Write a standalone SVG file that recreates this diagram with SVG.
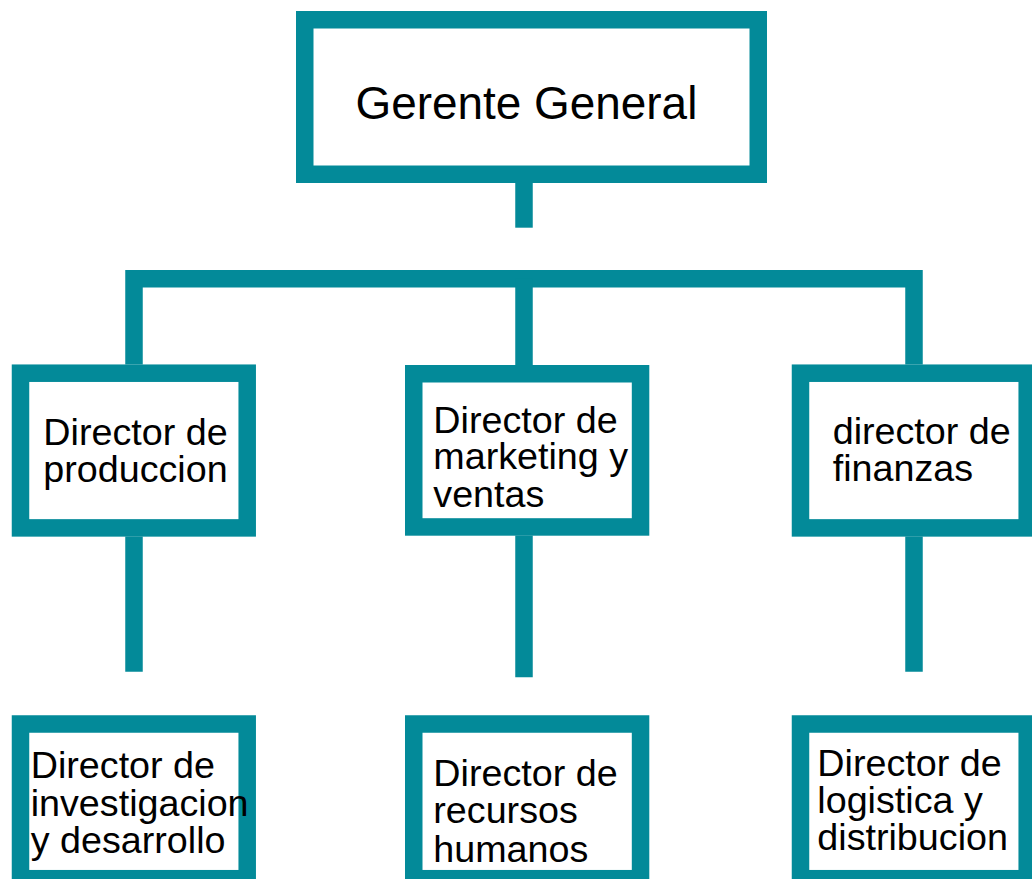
<svg xmlns="http://www.w3.org/2000/svg" width="1032" height="879" viewBox="0 0 1032 879">
<style>
.box{fill:#ffffff;stroke:#038A99;stroke-width:17.5}
.con{fill:none;stroke:#038A99;stroke-width:17.5;stroke-linecap:butt;stroke-linejoin:miter}
.t{font-family:"Liberation Sans",Arial,sans-serif;font-size:37.7px;fill:#000000}
.tt{font-family:"Liberation Sans",Arial,sans-serif;font-size:45.9px;fill:#000000}
</style>
<rect width="1032" height="879" fill="#ffffff"/>
<g id="connectors">
<path class="con" d="M524,183 V227.7"/>
<path class="con" d="M134,364.5 V278.75 H914 V364.5"/>
<path class="con" d="M524,278.75 V365"/>
<path class="con" d="M134,536.5 V671.7"/>
<path class="con" d="M524,535.5 V677.3"/>
<path class="con" d="M914,536.5 V671.7"/>
</g>
<g id="gerente">
<rect class="box" x="304.75" y="19.75" width="453.5" height="154.5"/>
<text class="tt" x="355.5" y="119">Gerente General</text>
</g>
<g id="produccion">
<rect class="box" x="20.5" y="373.2" width="226.7" height="154.7"/>
<text class="t" x="43.3" y="445">Director de</text>
<text class="t" x="43.3" y="481.7">produccion</text>
</g>
<g id="marketing">
<rect class="box" x="413.75" y="373.75" width="226.8" height="153.2"/>
<text class="t" x="433.3" y="433.3">Director de</text>
<text class="t" x="433.3" y="469.3">marketing y</text>
<text class="t" x="433.3" y="506.5">ventas</text>
</g>
<g id="finanzas">
<rect class="box" x="800.5" y="373.2" width="226.7" height="154.7"/>
<text class="t" x="832.7" y="444.3">director de</text>
<text class="t" x="832.7" y="481">finanzas</text>
</g>
<g id="investigacion">
<rect class="box" x="20.5" y="724" width="226.7" height="154.7"/>
<text class="t" x="30.7" y="777.7">Director de</text>
<text class="t" x="30.7" y="815.5">investigacion</text>
<text class="t" x="30.7" y="853">y desarrollo</text>
</g>
<g id="recursos">
<rect class="box" x="413.75" y="724" width="226.8" height="154.7"/>
<text class="t" x="433.3" y="785.7">Director de</text>
<text class="t" x="433.3" y="823.3">recursos</text>
<text class="t" x="433.3" y="861.5">humanos</text>
</g>
<g id="logistica">
<rect class="box" x="800.5" y="724" width="226.7" height="154.7"/>
<text class="t" x="817.3" y="776">Director de</text>
<text class="t" x="817.3" y="813.3">logistica y</text>
<text class="t" x="817.3" y="850">distribucion</text>
</g>
</svg>
